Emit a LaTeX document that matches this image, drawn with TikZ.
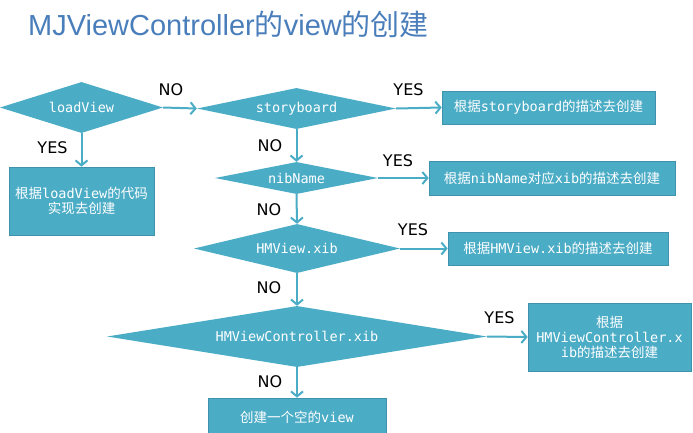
\documentclass[tikz,border=0pt]{standalone}
\usepackage{fontspec}
\setmainfont{DejaVu Sans}
\newfontfamily\cjk{Noto Sans CJK SC}
\newfontfamily\code{DejaVu Sans Mono}
\newfontfamily\titlefont{Liberation Sans}
\usetikzlibrary{shapes.geometric,arrows.meta}
\definecolor{flowblue}{RGB}{75,172,198}
\definecolor{flowedge}{RGB}{62,146,172}
\definecolor{titleblue}{RGB}{74,126,187}
\newcommand{\zh}[1]{{\cjk #1}}

\tikzset{
    decision/.style={diamond, fill=flowblue, inner sep=0pt, text=white,
        font=\code\fontsize{13.5}{15}\selectfont},
    action/.style={rectangle, fill=flowblue, draw=flowedge, line width=0.6pt,
        text=white, align=center, inner sep=0pt,
        font=\code\fontsize{13.5}{15}\selectfont},
    answer/.style={inner sep=0pt, font=\fontsize{16}{18}\selectfont},
    link/.style={-{Straight Barb[length=5pt,width=12pt,line width=2pt]},
        draw=flowblue, line width=2pt}
}

\begin{document}
\begin{tikzpicture}[x=1pt, y=-1pt]
    \useasboundingbox (0,0) rectangle (693,432);
    \node[anchor=base west, inner sep=0pt, text=titleblue,
        font=\titlefont\fontsize{29}{32}\selectfont] (title) at (28,35)
        {MJViewController\zh{的}view\zh{的创建}};
    \node[decision, aspect=3.2, minimum width=163, minimum height=51] (loadview) at (81.5,107.5) {loadView};
    \node[decision, aspect=4.85, minimum width=199, minimum height=41] (storyboard) at (296.5,108.5) {storyboard};
    \node[decision, aspect=5.1, minimum width=163, minimum height=32] (nibname) at (296.5,178) {nibName};
    \node[decision, aspect=4.2, minimum width=206, minimum height=49] (hmview) at (297,248.5) {HMView.xib};
    \node[decision, aspect=6.23, minimum width=380, minimum height=61] (hmvc) at (297,336.5) {HMViewController.xib};
    \node[action, minimum width=145, minimum height=68] (by-code) at (81.5,201)
        {\zh{根据}loadView\zh{的代码}\\\zh{实现去创建}};
    \node[action, minimum width=213, minimum height=33] (by-story) at (548.5,107.5)
        {\zh{根据}storyboard\zh{的描述去创建}};
    \node[action, minimum width=246, minimum height=34] (by-nib) at (552,178)
        {\zh{根据}nibName\zh{对应}xib\zh{的描述去创建}};
    \node[action, minimum width=220, minimum height=33] (by-hmview) at (558,248.5)
        {\zh{根据}HMView.xib\zh{的描述去创建}};
    \node[action, minimum width=163, minimum height=68] (by-hmvc) at (609.5,337)
        {\zh{根据}\\HMViewController.x\\ib\zh{的描述去创建}};
    \node[action, minimum width=178, minimum height=38] (empty) at (297,417)
        {\zh{创建一个空的}view};
    \node[answer] (no-load) at (171,89.5) {NO};
    \node[answer] (yes-load) at (52.5,147.5) {YES};
    \node[answer] (yes-story) at (408.5,89.5) {YES};
    \node[answer] (no-story) at (270,145.5) {NO};
    \node[answer] (yes-nib) at (398,161) {YES};
    \node[answer] (no-nib) at (269,209.5) {NO};
    \node[answer] (yes-hmview) at (413,229.5) {YES};
    \node[answer] (no-hmview) at (269,288) {NO};
    \node[answer] (yes-hmvc) at (499.5,317.5) {YES};
    \node[answer] (no-hmvc) at (270,382) {NO};
    \draw[link] (loadview.east) -- (storyboard.west);
    \draw[link] (loadview.south) -- (by-code.north);
    \draw[link] (storyboard.east) -- (by-story.west);
    \draw[link] (storyboard.south) -- (nibname.north);
    \draw[link] (nibname.east) -- (by-nib.west);
    \draw[link] (nibname.south) -- (hmview.north);
    \draw[link] (hmview.east) -- (by-hmview.west);
    \draw[link] (hmview.south) -- (hmvc.north);
    \draw[link] (hmvc.east) -- (by-hmvc.west);
    \draw[link] (hmvc.south) -- (empty.north);
\end{tikzpicture}
\end{document}
